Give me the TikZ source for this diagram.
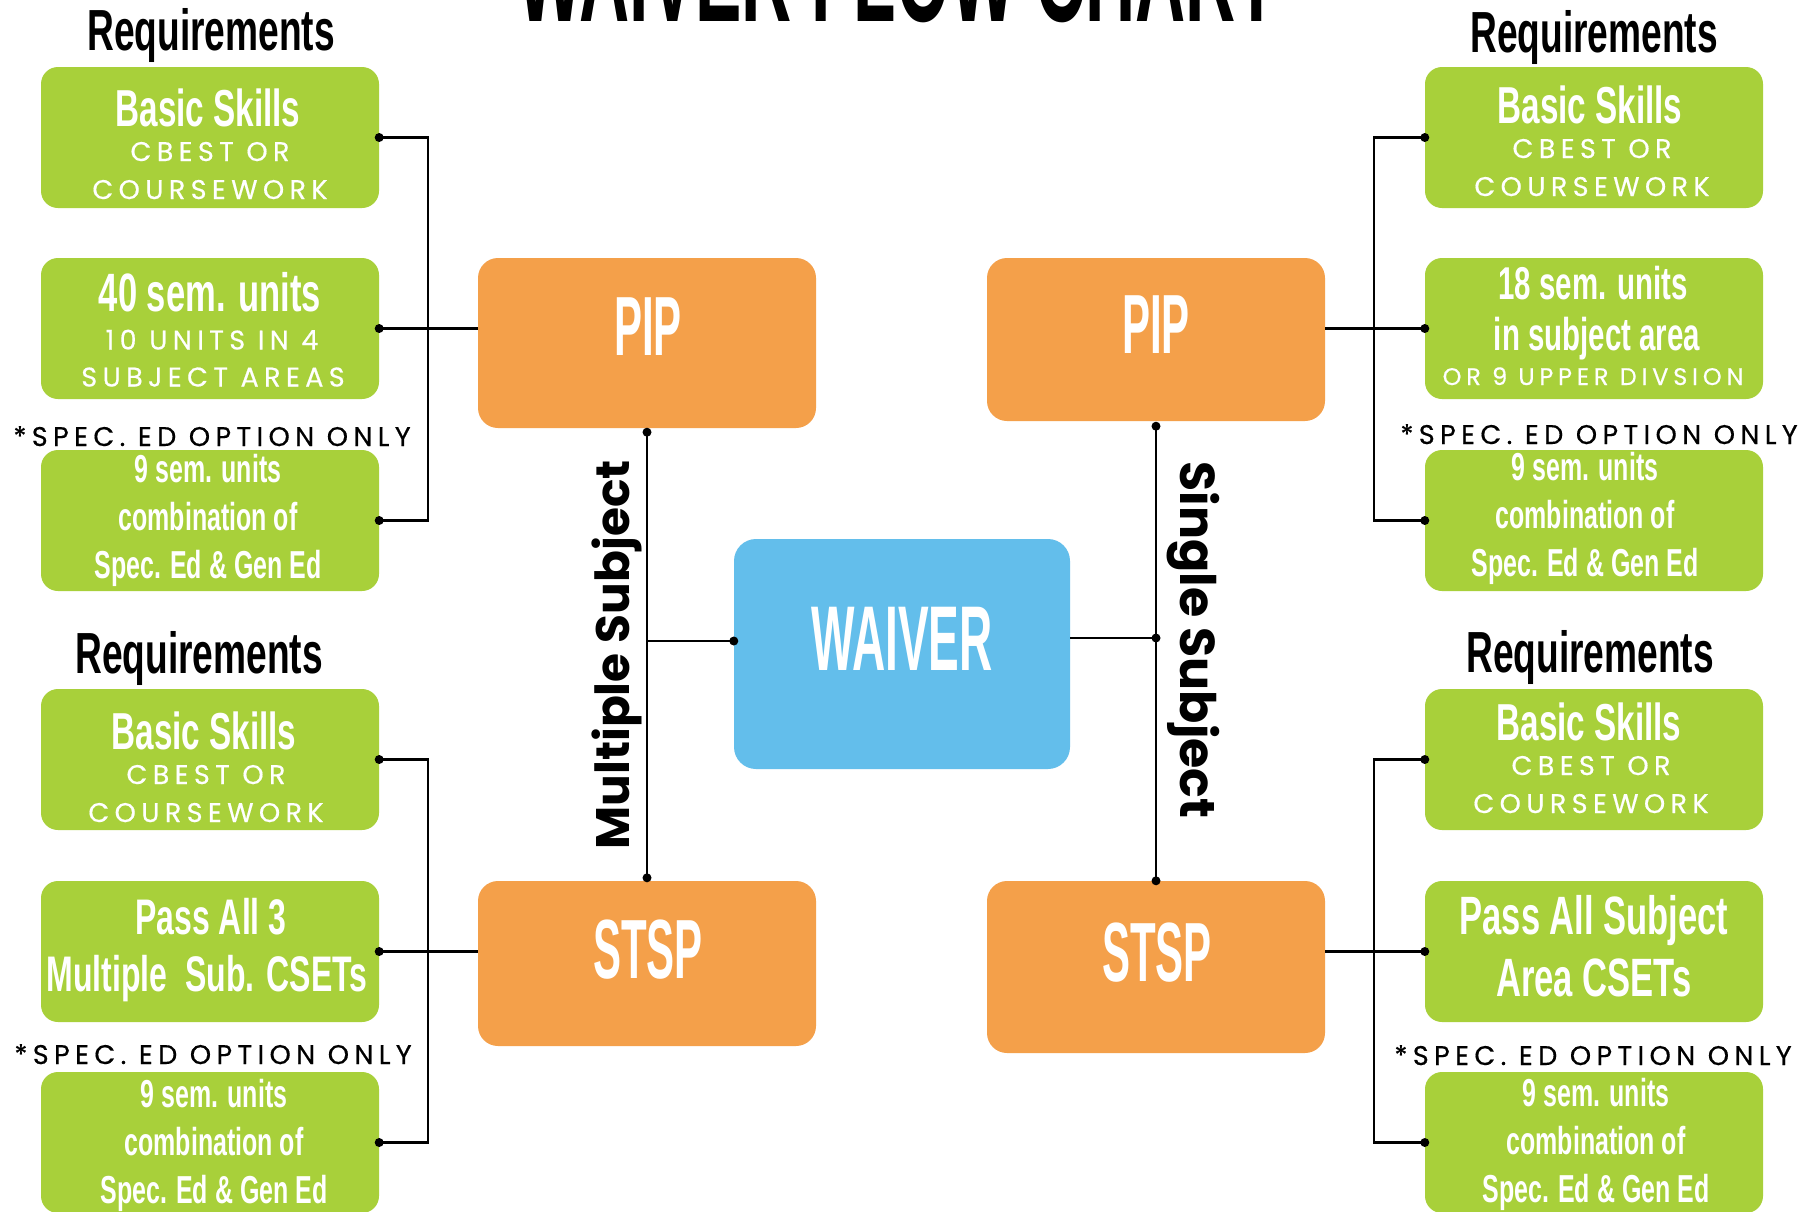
\documentclass[tikz,border=0pt]{standalone}
\usepackage{fontspec}
\usepackage{xcolor}
\usetikzlibrary{positioning, calc}

\newfontfamily\gothic[FakeStretch=0.64]{Liberation Sans}
\newfontfamily\narrowgothic[FakeStretch=0.5]{Liberation Sans}
\newfontfamily\widecaps[LetterSpace=20, FakeBold=0.5]{Poppins}
\newfontfamily\roundsans{Poppins}

\definecolor{reqgreen}{HTML}{A8D03A}
\definecolor{pathorange}{HTML}{F4A04A}
\definecolor{waiverblue}{HTML}{63BEEB}

\tikzset{
  reqbox/.style={fill=reqgreen, rounded corners=17pt, minimum width=338pt, minimum height=141pt, inner sep=0pt},
  pathbox/.style={fill=pathorange, rounded corners=20pt, minimum width=338pt, minimum height=#1, inner sep=0pt},
  waiverbox/.style={fill=waiverblue, rounded corners=22pt, minimum width=336pt, minimum height=230pt, inner sep=0pt},
  reqline/.style={font=\gothic\bfseries\fontsize{#1}{#1}\selectfont, text=white, anchor=base, inner sep=0pt},
  capline/.style={font=\widecaps\fontsize{#1}{#1}\selectfont, text=white, anchor=base, inner sep=0pt},
  pathline/.style={font=\narrowgothic\bfseries\fontsize{#1}{#1}\selectfont, text=white, anchor=base, inner sep=0pt},
  headline/.style={font=\gothic\bfseries\fontsize{58}{58}\selectfont, anchor=base, inner sep=0pt},
  noteline/.style={font=\widecaps\fontsize{27}{27}\selectfont, anchor=base, inner sep=0pt},
  sidelabel/.style={font=\roundsans\bfseries\fontsize{#1}{#1}\selectfont, anchor=base, inner sep=0pt},
  link/.style={line width=2.4pt}
}

\begin{document}
\begin{tikzpicture}[x=1pt, y=-1pt]
  \path[use as bounding box] (0,0) rectangle (1817,1211);
  \clip (0,0) rectangle (1817,1211);
  \fill[white] (0,0) rectangle (1817,1211);

  % title, mostly above the page
  \node[font=\narrowgothic\bfseries\fontsize{139}{139}\selectfont, anchor=base, inner sep=0pt] (title) at (898,21) {WAIVER FLOW CHART};

  % requirement headings and notes
  \foreach \n/\x/\y in {hlt/211/50, hlb/199/673, hrt/1594/52, hrb/1590/672}
    \node[headline] (\n) at (\x,\y) {Requirements};
  \foreach \n/\x/\y in {nlt/212/446, nlb/213/1064, nrt/1599/444, nrb/1593/1065}
    \node[noteline] (\n) at (\x,\y) {*SPEC. ED OPTION ONLY};

  % basic skills boxes
  \foreach \n/\bx/\by/\tx/\ty in {l1/210/137.5/208/126, l4/210/759.5/204/749, r1/1594/137.5/1590/123, r4/1594/759.5/1589/740} {
    \node[reqbox] (\n) at (\bx,\by) {};
    \node[reqline=52] (\n-a) at (\tx,\ty) {Basic Skills};
    \node[capline=27] (\n-b) at (\tx+2,\ty+35) {CBEST OR};
    \node[capline=27] (\n-c) at (\tx+2,\ty+73) {COURSEWORK};
  }

  % spec. ed boxes
  \foreach \n/\bx/\by/\tx/\ty in {l3/210/520.5/208/482, l6/210/1142.5/214/1107, r3/1594/520.5/1585/480, r6/1594/1142.5/1596/1106} {
    \node[reqbox] (\n) at (\bx,\by) {};
    \node[reqline=39] (\n-a) at (\tx,\ty) {9 sem. units};
    \node[reqline=39] (\n-b) at (\tx,\ty+48) {combination of};
    \node[reqline=39] (\n-c) at (\tx,\ty+96) {Spec. Ed \& Gen Ed};
  }

  % units and CSET boxes
  \node[reqbox] (l2) at (210,328.5) {};
  \node[reqline=54] (l2-a) at (210,311) {40 sem. units};
  \node[capline=27] (l2-b) at (212,349.5) {10 UNITS IN 4};
  \node[capline=27] (l2-c) at (213,386.5) {SUBJECT AREAS};

  \node[reqbox] (l5) at (210,951.5) {};
  \node[reqline=50] (l5-a) at (211,934) {Pass All 3};
  \node[reqline=50] (l5-b) at (207,991) {Multiple\ \ Sub. CSETs};

  \node[reqbox] (r2) at (1594,328.5) {};
  \node[reqline=46] (r2-a) at (1593,299) {18 sem. units};
  \node[reqline=46] (r2-b) at (1597,350) {in subject area};
  \node[capline=24] (r2-c) at (1593,385) {OR 9 UPPER DIVSION};

  \node[reqbox] (r5) at (1594,951.5) {};
  \node[reqline=54] (r5-a) at (1594,934) {Pass All Subject};
  \node[reqline=54] (r5-b) at (1594,996) {Area CSETs};

  % program boxes
  \node[pathbox=170pt] (lpip) at (647,343) {};
  \node[pathbox=163pt] (rpip) at (1156,339.5) {};
  \node[pathbox=165pt] (lstsp) at (647,963.5) {};
  \node[pathbox=172pt] (rstsp) at (1156,967) {};
  \node[waiverbox] (waiver) at (902,654) {};
  \node[pathline=84] (lpip-t) at (648,355) {PIP};
  \node[pathline=84] (rpip-t) at (1156,353) {PIP};
  \node[pathline=84] (lstsp-t) at (648,978) {STSP};
  \node[pathline=84] (rstsp-t) at (1157,981) {STSP};
  \node[pathline=92] (waiver-t) at (902,670.5) {WAIVER};

  % brackets to the requirements
  \draw[link] (l1.east) -- ++(49,0) |- (l3.east);
  \draw[link] (l4.east) -- ++(49,0) |- (l6.east);
  \draw[link] (r1.west) -- ++(-51,0) |- (r3.west);
  \draw[link] (r4.west) -- ++(-51,0) |- (r6.west);
  \draw[link] (l2.east) -- (l2.east -| lpip.west);
  \draw[link] (l5.east) -- (l5.east -| lstsp.west);
  \draw[link] (r2.west) -- (r2.west -| rpip.east);
  \draw[link] (r5.west) -- (r5.west -| rstsp.east);

  % the two routes from the waiver
  \coordinate (mtop) at ($(lpip.south)+(0,4)$);
  \coordinate (mbot) at ($(lstsp.north)+(0,-3)$);
  \coordinate (wl) at ($(waiver.west)+(0,-13)$);
  \coordinate (stop) at ($(rpip.south)+(0,5)$);
  \coordinate (sbot) at (rstsp.north);
  \coordinate (wr) at ($(waiver.east)+(0,-16)$);
  \coordinate (wrj) at (wr -| stop);
  \draw[link] (mtop) -- (mbot);
  \draw[link] (wl) -- (wl -| mtop);
  \draw[link] (stop) -- (sbot);
  \draw[link] (wr) -- (wrj);

  \foreach \p in {l1.east, l2.east, l3.east, l4.east, l5.east, l6.east, r1.west, r2.west, r3.west, r4.west, r5.west, r6.west, mtop, mbot, wl, stop, sbot, wrj}
    \fill (\p) circle (4.5pt);

  \node[sidelabel=47, rotate=90] (multi) at (629,655) {Multiple Subject};
  \node[sidelabel=49, rotate=-90] (single) at (1180,640) {Single Subject};
\end{tikzpicture}
\end{document}
